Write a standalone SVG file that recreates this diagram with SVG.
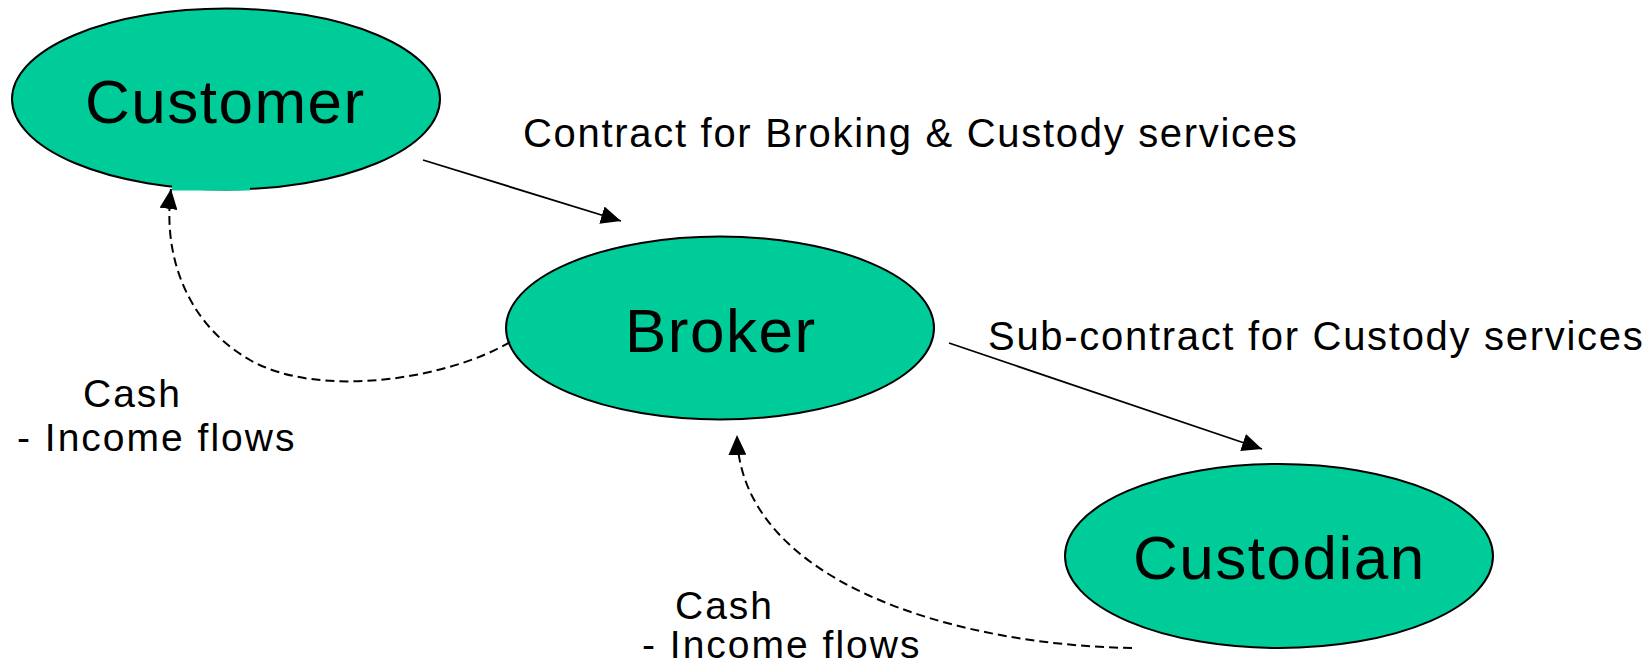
<svg xmlns="http://www.w3.org/2000/svg" width="1650" height="667" viewBox="0 0 1650 667">
  <defs>
    <marker id="arrow" viewBox="0 0 20 18" refX="20" refY="9" markerWidth="20" markerHeight="18" markerUnits="userSpaceOnUse" orient="auto">
      <path d="M0,0 L20,9 L0,18 Z" fill="#000"/>
    </marker>
    <style>
      .node { fill: #00cc99; stroke: #000; stroke-width: 2; }
      .patch { fill: #00cc99; stroke: none; }
      .node-label { font-family: "Liberation Sans", Arial, sans-serif; font-size: 62px; letter-spacing: 1.5px; fill: #000; }
      .label { font-family: "Liberation Sans", Arial, sans-serif; font-size: 40px; letter-spacing: 1.7px; fill: #000; }
      .flow-label { font-family: "Liberation Sans", Arial, sans-serif; font-size: 39px; letter-spacing: 2px; fill: #000; }
      .edge { fill: none; stroke: #000; stroke-width: 1.8; marker-end: url(#arrow); }
      .edge.dashed { stroke-width: 2; stroke-dasharray: 9 5; }
    </style>
  </defs>
  <rect width="1650" height="667" fill="#fff"/>

  <!-- nodes -->
  <g id="customer">
    <ellipse class="node" cx="226" cy="99" rx="214" ry="90.5"/>
    <rect class="patch" x="172" y="184" width="78" height="6.5"/>
    <text class="node-label" x="85" y="123">Customer</text>
  </g>
  <g id="broker">
    <ellipse class="node" cx="720" cy="328" rx="214" ry="91.5"/>
    <text class="node-label" x="625" y="352">Broker</text>
  </g>
  <g id="custodian">
    <ellipse class="node" cx="1279" cy="556" rx="214" ry="92"/>
    <text class="node-label" x="1133" y="579">Custodian</text>
  </g>

  <!-- connectors -->
  <g id="connectors">
    <path class="edge" d="M423,160 L621,221"/>
    <path class="edge" d="M949,343 L1262,449"/>
    <path class="edge dashed" d="M510,342 C450,378 320,400 250,360 C190,326 162,260 171,189"/>
    <path class="edge dashed" d="M1132,648 C950,645 740,580 737,435"/>
  </g>

  <!-- labels -->
  <g id="labels">
    <text class="label" x="523" y="147">Contract for Broking &amp; Custody services</text>
    <text class="label" x="988" y="350">Sub-contract for Custody services</text>
    <text class="flow-label" x="83" y="407">Cash</text>
    <text class="flow-label" x="17" y="451">- Income flows</text>
    <text class="flow-label" x="675" y="619">Cash</text>
    <text class="flow-label" x="642" y="658">- Income flows</text>
  </g>
</svg>
